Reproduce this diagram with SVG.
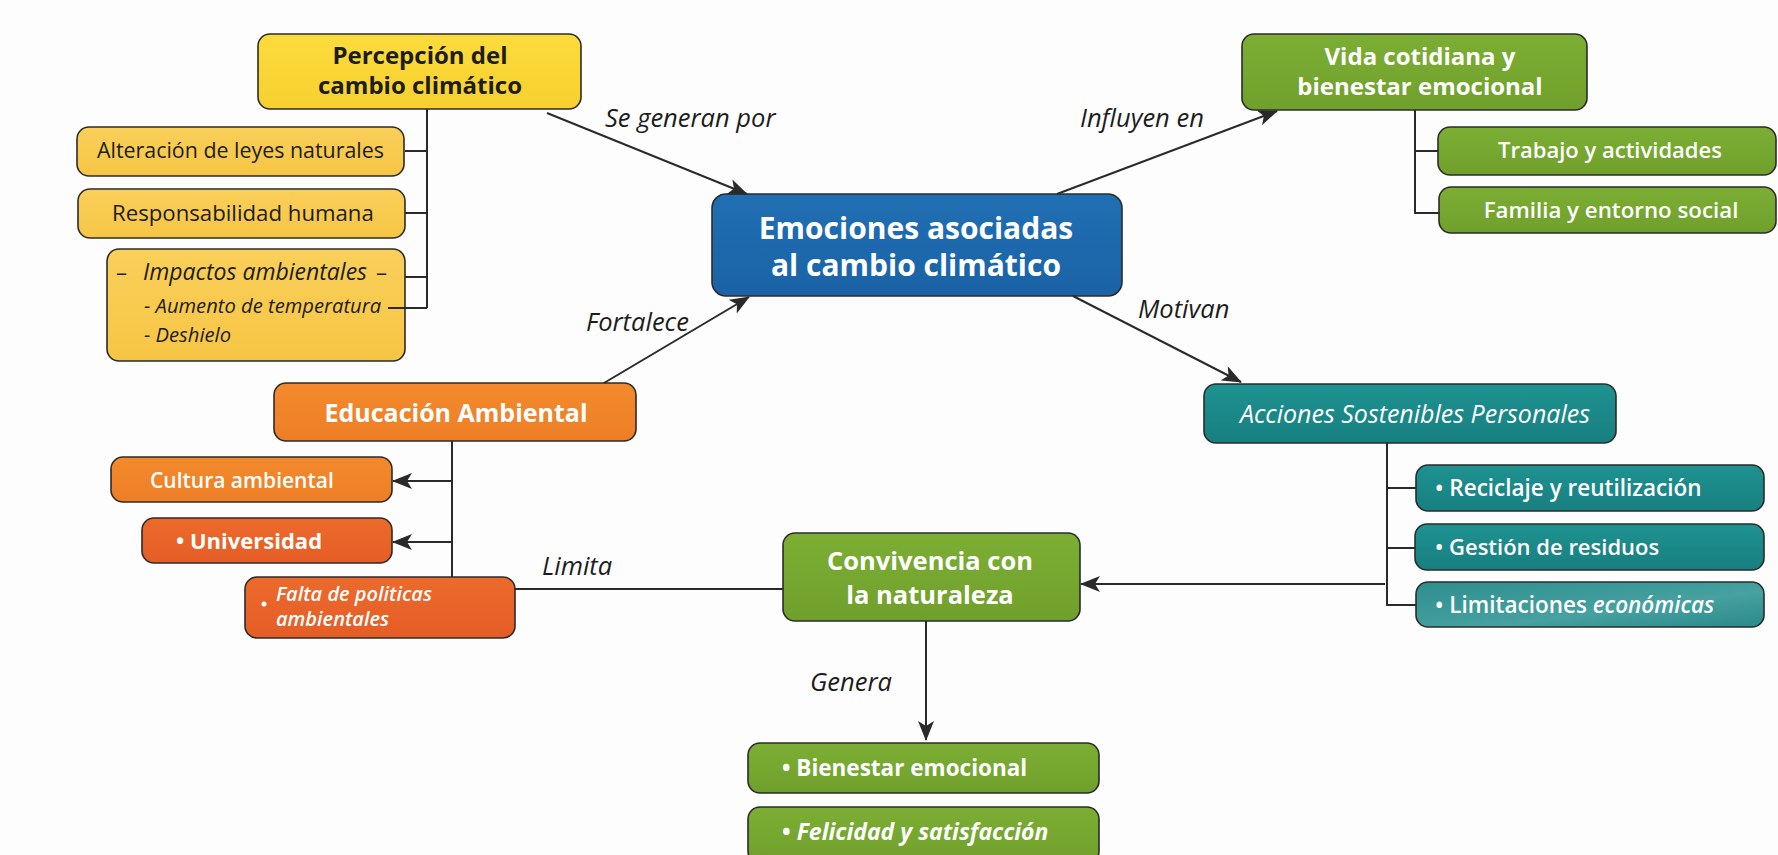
<svg xmlns="http://www.w3.org/2000/svg" width="1778" height="855" viewBox="0 0 1778 855">
<defs>
<marker id="arr" viewBox="0 0 20 16" refX="19" refY="8" markerWidth="20" markerHeight="16" markerUnits="userSpaceOnUse" orient="auto">
<path d="M0,0 L20,8 L0,16 L5,8 Z" fill="#2a2a2a"/>
</marker>
<linearGradient id="gY" x1="0" y1="0" x2="0" y2="1"><stop offset="0" stop-color="#FBDC3C"/><stop offset="1" stop-color="#F7D02E"/></linearGradient>
<linearGradient id="gYs" x1="0" y1="0" x2="0" y2="1"><stop offset="0" stop-color="#FAD05A"/><stop offset="1" stop-color="#F6C544"/></linearGradient>
<linearGradient id="gB" x1="0" y1="0" x2="0" y2="1"><stop offset="0" stop-color="#216FB3"/><stop offset="1" stop-color="#1A62A6"/></linearGradient>
<linearGradient id="gG" x1="0" y1="0" x2="0" y2="1"><stop offset="0" stop-color="#7CAE34"/><stop offset="1" stop-color="#70A02C"/></linearGradient>
<linearGradient id="gO" x1="0" y1="0" x2="0" y2="1"><stop offset="0" stop-color="#F38A2C"/><stop offset="1" stop-color="#EE7E26"/></linearGradient>
<linearGradient id="gR" x1="0" y1="0" x2="0" y2="1"><stop offset="0" stop-color="#EC6A2C"/><stop offset="1" stop-color="#E55D26"/></linearGradient>
<linearGradient id="gT" x1="0" y1="0" x2="0" y2="1"><stop offset="0" stop-color="#1E9291"/><stop offset="1" stop-color="#187F80"/></linearGradient>
<linearGradient id="gTl" x1="0" y1="0" x2="1" y2="1"><stop offset="0" stop-color="#2E8E8E"/><stop offset="0.6" stop-color="#46A1A0"/><stop offset="1" stop-color="#2A8A8A"/></linearGradient>
</defs>
<style>
.box{stroke:#2b2b2b;stroke-width:1.6}
.y{fill:url(#gY)} .ys{fill:url(#gYs)} .b{fill:url(#gB)} .g{fill:url(#gG)} .o{fill:url(#gO)} .r{fill:url(#gR)} .t{fill:url(#gT)} .tl{fill:url(#gTl)}
text{font-family:"Open Sans",Lato,"Noto Sans",sans-serif}
.dk{fill:#1d1d1d}
.wt{fill:#ffffff}
.bd{font-weight:700}
.sb{font-weight:600}
.it{font-style:italic}
.mid{text-anchor:middle}
.lbl{font-style:italic;font-size:25.5px;fill:#1d1d1d}
.con{fill:none;stroke:#2a2a2a;stroke-width:2}
</style>
<rect width="1778" height="855" fill="#FDFDFD"/>

<g id="n-percepcion">
<rect class="box y" x="258" y="34" width="323" height="75" rx="12"/>
<text class="dk bd mid" x="420" y="64" font-size="24">Percepción del</text>
<text class="dk bd mid" x="420" y="94" font-size="24">cambio climático</text>
</g>
<g id="n-alteracion">
<rect class="box ys" x="77" y="127" width="327" height="49" rx="12"/>
<text class="dk" x="97" y="158" font-size="21.4">Alteración de leyes naturales</text>
</g>
<g id="n-responsabilidad">
<rect class="box ys" x="78" y="189" width="327" height="49" rx="12"/>
<text class="dk" x="112" y="221" font-size="22.2">Responsabilidad humana</text>
</g>
<g id="n-impactos">
<rect class="box ys" x="107" y="249" width="298" height="112" rx="12"/>
<text class="dk" x="116" y="280" font-size="22">–</text>
<text class="dk it" x="143" y="280" font-size="23">Impactos ambientales</text>
<text class="dk" x="376" y="280" font-size="22">–</text>
<text class="dk it" x="144" y="313" font-size="20.2">- Aumento de temperatura</text>
<text class="dk it" x="144" y="342" font-size="20.2">- Deshielo</text>
</g>

<g id="n-central">
<rect class="box b" x="712" y="194" width="410" height="102" rx="14"/>
<text class="wt bd mid" x="916" y="239" font-size="30">Emociones asociadas</text>
<text class="wt bd mid" x="916" y="276" font-size="30">al cambio climático</text>
</g>

<g id="n-vida">
<rect class="box g" x="1242" y="34" width="345" height="76" rx="12"/>
<text class="wt bd mid" x="1420" y="65" font-size="24">Vida cotidiana y</text>
<text class="wt bd mid" x="1420" y="95" font-size="24">bienestar emocional</text>
</g>
<g id="n-trabajo">
<rect class="box g" x="1438" y="127" width="338" height="48" rx="12"/>
<text class="wt sb mid" x="1610" y="158" font-size="22">Trabajo y actividades</text>
</g>
<g id="n-familia">
<rect class="box g" x="1439" y="187" width="337" height="46" rx="12"/>
<text class="wt sb mid" x="1611" y="218" font-size="22.3">Familia y entorno social</text>
</g>

<g id="n-educacion">
<rect class="box o" x="274" y="383" width="362" height="58" rx="12"/>
<text class="wt bd mid" x="456" y="422" font-size="25">Educación Ambiental</text>
</g>
<g id="n-cultura">
<rect class="box o" x="111" y="457" width="281" height="45" rx="12"/>
<text class="wt sb" x="150" y="488" font-size="21">Cultura ambiental</text>
</g>
<g id="n-universidad">
<rect class="box r" x="142" y="518" width="250" height="45" rx="12"/>
<text class="wt bd" x="176" y="549" font-size="22">• Universidad</text>
</g>
<g id="n-falta">
<rect class="box r" x="245" y="577" width="270" height="61" rx="12"/>
<circle cx="264" cy="604" r="2.5" fill="#ffffff"/>
<text class="wt sb it" x="276" y="601" font-size="20">Falta de politicas</text>
<text class="wt sb it" x="276" y="626" font-size="20">ambientales</text>
</g>

<g id="n-convivencia">
<rect class="box g" x="783" y="533" width="297" height="88" rx="12"/>
<text class="wt bd mid" x="930" y="570" font-size="25.5">Convivencia con</text>
<text class="wt bd mid" x="930" y="604" font-size="25.5">la naturaleza</text>
</g>

<g id="n-acciones">
<rect class="box t" x="1204" y="384" width="412" height="59" rx="12"/>
<text class="wt it mid" x="1415" y="423" font-size="25">Acciones Sostenibles Personales</text>
</g>
<g id="n-reciclaje">
<rect class="box t" x="1416" y="465" width="348" height="46" rx="12"/>
<text class="wt sb" x="1435" y="496" font-size="22.5">• Reciclaje y reutilización</text>
</g>
<g id="n-gestion">
<rect class="box t" x="1415" y="524" width="349" height="46" rx="12"/>
<text class="wt sb" x="1435" y="555" font-size="22">• Gestión de residuos</text>
</g>
<g id="n-limitaciones">
<rect class="box tl" x="1416" y="582" width="348" height="45" rx="12"/>
<text class="wt sb" x="1435" y="613" font-size="22.5">• Limitaciones <tspan class="it">económicas</tspan></text>
</g>

<g id="n-bienestar">
<rect class="box g" x="748" y="743" width="351" height="50" rx="12"/>
<text class="wt bd" x="782" y="776" font-size="22.5">• Bienestar emocional</text>
</g>
<g id="n-felicidad">
<rect class="box g" x="748" y="807" width="351" height="56" rx="12"/>
<text class="wt bd" x="782" y="840" font-size="23">• <tspan class="it">Felicidad y satisfacción</tspan></text>
</g>

<g id="connectors">
<line class="con" x1="547" y1="113" x2="747" y2="194" marker-end="url(#arr)"/>
<line class="con" x1="1057" y1="194" x2="1277" y2="111" marker-end="url(#arr)"/>
<line class="con" x1="604" y1="383" x2="749" y2="297" marker-end="url(#arr)"/>
<line class="con" x1="1073" y1="296" x2="1241" y2="382" marker-end="url(#arr)"/>
<path class="con" d="M427,109 V308 M405,151 H427 M405,213 H427 M405,277 H427 M388,308 H427"/>
<path class="con" d="M1415,110 V213 H1439 M1415,151 H1438"/>
<path class="con" d="M452,441 V577"/>
<line class="con" x1="452" y1="481" x2="393" y2="481" marker-end="url(#arr)"/>
<line class="con" x1="452" y1="542" x2="393" y2="542" marker-end="url(#arr)"/>
<path class="con" d="M515,589 H783"/>
<path class="con" d="M1387,443 V605 H1416 M1387,488 H1416 M1387,548 H1415"/>
<line class="con" x1="1385" y1="584" x2="1081" y2="584" marker-end="url(#arr)"/>
<line class="con" x1="926" y1="621" x2="926" y2="740" marker-end="url(#arr)"/>
<text class="lbl" x="605" y="127">Se generan por</text>
<text class="lbl" x="1080" y="127">Influyen en</text>
<text class="lbl" x="586" y="331">Fortalece</text>
<text class="lbl" x="1138" y="318">Motivan</text>
<text class="lbl" x="542" y="575">Limita</text>
<text class="lbl" x="810" y="691">Genera</text>
</g>
</svg>
